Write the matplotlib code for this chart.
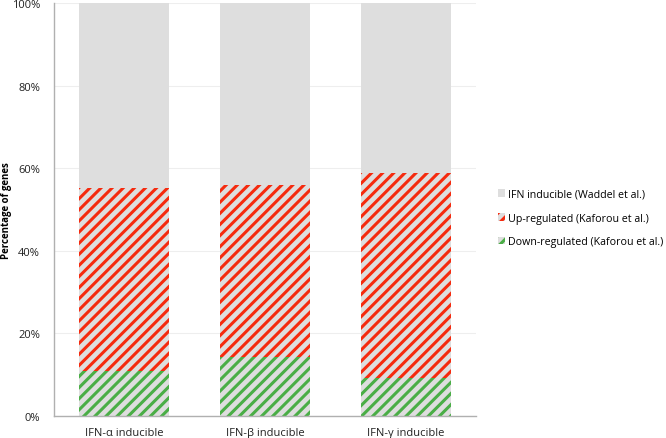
import matplotlib
matplotlib.use("Agg")
import matplotlib.pyplot as plt
import numpy as np
from matplotlib.ticker import PercentFormatter

categories = ["IFN-\u03b1 inducible", "IFN-\u03b2 inducible", "IFN-\u03b3 inducible"]
down_regulated = [10.8, 14.2, 9.2]
up_regulated = [44.3, 41.7, 49.6]
ifn_inducible = [44.9, 44.1, 41.2]
series_labels = ["Down-regulated (Kaforou et al.)", "Up-regulated (Kaforou et al.)", "IFN inducible (Waddel et al.)"]
y_ticks = [0, 20, 40, 60, 80, 100]

plt.rcParams['font.family'] = ['Open Sans', 'DejaVu Sans']
plt.rcParams['hatch.linewidth'] = 2.2

fig = plt.figure(figsize=(6.66, 4.39), dpi=100)
ax = fig.add_axes([0.081, 0.05, 0.634, 0.941])

x = np.arange(len(categories))
w = 0.64
bg = "#dedede"
plt.rcParams['hatch.color'] = "#4aae46"
b1 = ax.bar(x, down_regulated, w, color=bg, edgecolor="#4aae46", linewidth=0, hatch="///")
b2 = ax.bar(x, up_regulated, w, bottom=down_regulated, color=bg, linewidth=0, hatch="///")
for p in b2:
    p._hatch_color = matplotlib.colors.to_rgba("#f52a0e")
bottom3 = np.array(down_regulated) + np.array(up_regulated)
b3 = ax.bar(x, ifn_inducible, w, bottom=bottom3, color=bg, linewidth=0)

ax.set_xlim(-0.5, 2.5)
ax.set_ylim(0, 100)
ax.set_yticks(y_ticks)
ax.yaxis.set_major_formatter(PercentFormatter(decimals=0))
ax.set_xticks(x)
ax.set_xticklabels(categories)
ax.tick_params(length=0, labelsize=8, colors="#222222")
ax.tick_params(axis='x', pad=8)
ax.tick_params(axis='y', pad=10)
ax.grid(axis='y', color="#eeeeee", linewidth=0.8)
ax.set_axisbelow(True)
for s in ["top", "right"]:
    ax.spines[s].set_visible(False)
for s in ["left", "bottom"]:
    ax.spines[s].set_color("#b0b0b0")
    ax.spines[s].set_linewidth(1.0)
ax.set_ylabel("Percentage of genes", fontsize=7, fontweight="bold")
ax.yaxis.set_label_coords(-0.10, 0.5)

handles = [b3[0], b2[0], b1[0]]
labels = [series_labels[2], series_labels[1], series_labels[0]]
leg = fig.legend(handles, labels, loc="center left", bbox_to_anchor=(0.733, 0.501),
                 frameon=False, fontsize=7.7, handlelength=0.7, handleheight=0.7,
                 handletextpad=0.3, labelspacing=1.2)

fig.savefig("out.png", dpi=100)
